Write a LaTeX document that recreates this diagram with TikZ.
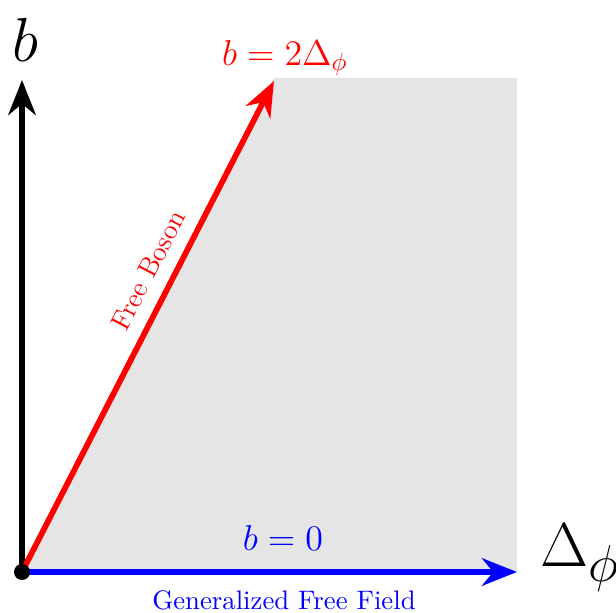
\documentclass[tikz,border=0pt]{standalone}
\usetikzlibrary{arrows.meta}
\begin{document}
\begin{tikzpicture}[x=0.4pt,y=-0.4pt,
  axis/.style={line width=2.3pt,-{Stealth[length=14pt,width=11pt,inset=4.5pt]}},
  lbl/.style={inner sep=0pt}]
\useasboundingbox (0,0) rectangle (616,613);
\coordinate (O) at (22,572);
\coordinate (ytip) at (22,80);
\coordinate (rtip) at (274,81);
\coordinate (xtip) at (517,572);
\fill[gray!20] (O) -- (274,78) -- (517,78) -- (517,572) -- cycle;
\draw[axis,black] (O) -- (ytip);
\draw[axis,red] (O) -- (rtip);
\draw[axis,blue] (O) -- (xtip);
\fill[black] (O) circle (8);
\node[lbl] (bl) at (25,40) {\Huge $b$};
\node[lbl] (dl) at (580,558) {\Huge $\Delta_\phi$};
\node[lbl,red] (rl) at (285,58) {\Large $b=2\Delta_\phi$};
\node[lbl,blue] (bz) at (283,538) {\Large $b=0$};
\node[lbl,blue] (gff) at (284,600) {\fontsize{10.7}{12}\selectfont Generalized Free Field};
\node[lbl,red,rotate=62.6] (fb) at (148,270) {\fontsize{11}{13}\selectfont Free Boson};
\end{tikzpicture}
\end{document}
